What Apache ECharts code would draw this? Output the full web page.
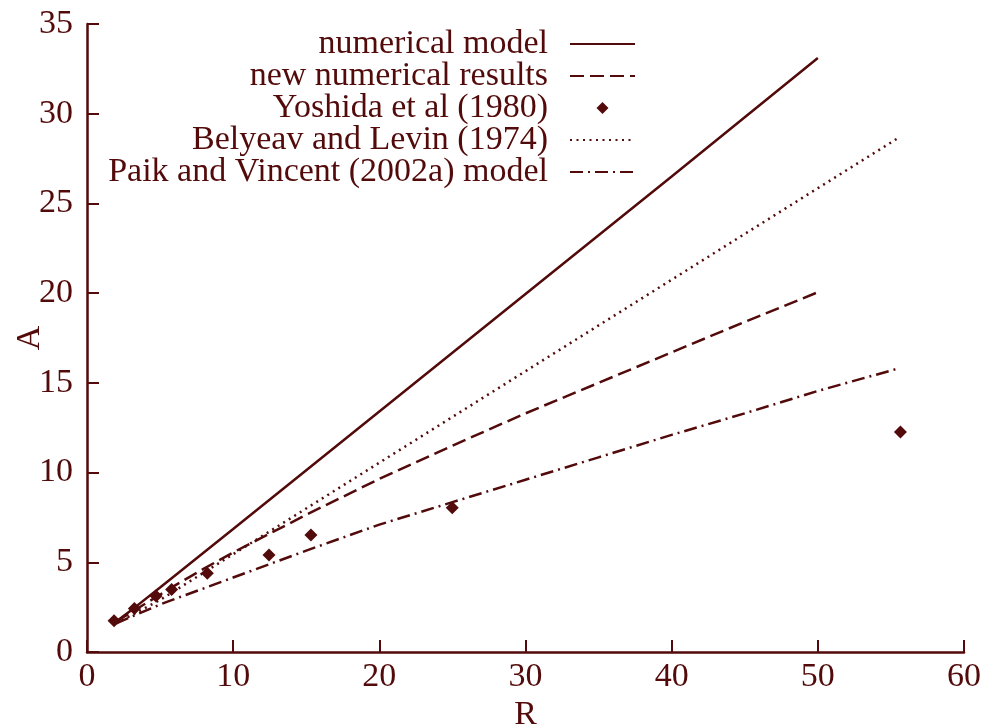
<!DOCTYPE html>
<html>
<head>
<meta charset="utf-8">
<script src="https://cdn.jsdelivr.net/npm/echarts@6/dist/echarts.min.js"></script>
<style>html,body{margin:0;padding:0;background:#fff;}#c{width:987px;height:725px;}</style>
</head>
<body>
<div id="c"></div>
<script>
// Data
const seriesNames = ['numerical model', 'new numerical results', 'Yoshida et al (1980)', 'Belyeav and Levin (1974)', 'Paik and Vincent (2002a) model'];
const xTicks = [0, 10, 20, 30, 40, 50, 60];
const yTicks = [0, 5, 10, 15, 20, 25, 30, 35];

const numericalModelR = [2, 3.3, 5, 10, 20, 30, 40, 50];
const numericalModelA = [1.7, 2.5, 3.6, 6.85, 13.4, 19.95, 26.5, 33.1];

const newResultsR = [2, 4, 6, 8, 10, 15, 20, 25, 30, 35, 40, 45, 50];
const newResultsA = [1.7, 2.7, 3.7, 4.65, 5.55, 7.65, 9.65, 11.5, 13.3, 15.0, 16.7, 18.4, 20.05];

const yoshidaR = [1.85, 3.24, 4.72, 5.79, 8.23, 12.45, 15.32, 24.99, 55.65];
const yoshidaA = [1.74, 2.43, 3.12, 3.49, 4.39, 5.41, 6.52, 8.04, 12.26];

const belyeavR = [2, 5, 10, 20, 30, 40, 50, 55.6];
const belyeavA = [1.6, 2.9, 5.45, 10.55, 15.65, 20.75, 25.85, 28.7];

const paikR = [2, 5, 10, 15, 20, 25, 30, 35, 40, 45, 50, 55.5];
const paikA = [1.6, 2.65, 4.15, 5.65, 7.1, 8.35, 9.6, 10.85, 12.1, 13.3, 14.55, 15.8];

const zip = (xs, ys) => xs.map((x, i) => [x, ys[i]]);

const C = '#520a0a';
const FONT = 'Liberation Serif';
const FS = 34;

const chart = echarts.init(document.getElementById('c'), null, {renderer: 'canvas'});
const lineSeries = (name, data, type) => ({
  name, type: 'line', data, symbol: 'none', smooth: false,
  lineStyle: {color: C, width: 2.5, type},
  itemStyle: {color: C}, z: 2
});
chart.setOption({
  animation: false,
  backgroundColor: '#fff',
  grid: {left: 87, right: 23, top: 24, bottom: 73, containLabel: false, outerBoundsMode: 'none'},
  legend: {
    orient: 'vertical', right: 351, top: 27, align: 'right', padding: 0,
    itemWidth: 65, itemHeight: 12, itemGap: -2, symbolKeepAspect: true,
    textStyle: {fontFamily: FONT, fontSize: FS, color: C, lineHeight: 32, padding: [0, 17, 0, 0]},
    data: seriesNames.map((n, i) => i === 2
      ? {name: n, icon: 'path://M0,-1L1,0L0,1L-1,0Z', itemStyle: {color: C, opacity: 1}}
      : {name: n, itemStyle: {opacity: 0}})
  },
  xAxis: {
    type: 'value', min: 0, max: 60, interval: 10,
    name: 'R', nameLocation: 'middle', nameGap: 46, nameMoveOverlap: false,
    nameTextStyle: {fontFamily: FONT, fontSize: FS, color: C},
    axisLine: {show: true, lineStyle: {color: C, width: 2.5}},
    axisTick: {show: true, inside: true, length: 12, lineStyle: {color: C, width: 2}},
    axisLabel: {fontFamily: FONT, fontSize: FS, color: C, margin: 8,
      formatter: v => xTicks.includes(v) ? String(v) : ''},
    splitLine: {show: false}
  },
  yAxis: {
    type: 'value', min: 0, max: 35, interval: 5,
    name: 'A', nameLocation: 'middle', nameGap: 40, nameMoveOverlap: false,
    nameTextStyle: {fontFamily: FONT, fontSize: FS, color: C},
    axisLine: {show: true, lineStyle: {color: C, width: 2.5}},
    axisTick: {show: true, inside: true, length: 12, lineStyle: {color: C, width: 2}},
    axisLabel: {fontFamily: FONT, fontSize: FS, color: C, margin: 14,
      formatter: v => yTicks.includes(v) ? String(v) : ''},
    splitLine: {show: false}
  },
  series: [
    lineSeries(seriesNames[0], zip(numericalModelR, numericalModelA), 'solid'),
    lineSeries(seriesNames[1], zip(newResultsR, newResultsA), [14, 6]),
    {
      name: seriesNames[2], type: 'scatter', data: zip(yoshidaR, yoshidaA),
      symbol: 'diamond', symbolSize: 13, itemStyle: {color: C, opacity: 1}, z: 3
    },
    lineSeries(seriesNames[3], zip(belyeavR, belyeavA), [2, 4.5]),
    lineSeries(seriesNames[4], zip(paikR, paikA), [13, 5, 2, 5])
  ]
});
</script>
</body>
</html>
